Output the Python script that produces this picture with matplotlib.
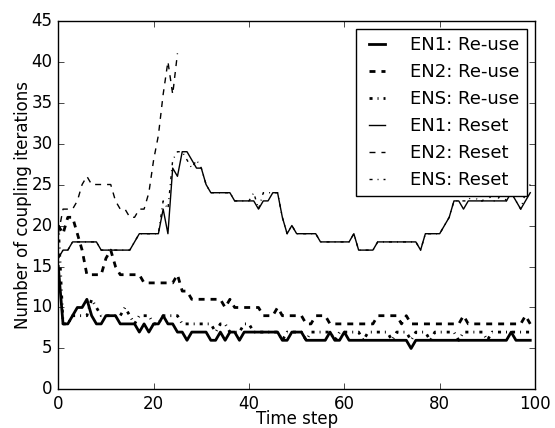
import numpy as np
import matplotlib
matplotlib.use("Agg")
import matplotlib.pyplot as plt

plt.style.use("classic")

# coupling iterations per time step
en1_reuse = [15, 8, 8, 9, 10, 10, 11, 9, 8, 8,
             9, 9, 9, 8, 8, 8, 8, 7, 8, 7,
             8, 8, 9, 8, 8, 7, 7, 6, 7, 7,
             7, 7, 6, 6, 7, 6, 7, 7, 6, 7,
             7, 7, 7, 7, 7, 7, 7, 6, 6, 7,
             7, 7, 6, 6, 6, 6, 6, 7, 6, 6,
             7, 6, 6, 6, 6, 6, 6, 6, 6, 6,
             6, 6, 6, 6, 5, 6, 6, 6, 6, 6,
             6, 6, 6, 6, 6, 6, 6, 6, 6, 6,
             6, 6, 6, 6, 6, 7, 6, 6, 6, 6]
en2_reuse = [20, 19, 21, 21, 19, 17, 14, 14, 14, 14,
             16, 17, 15, 14, 14, 14, 14, 14, 13, 13,
             13, 13, 13, 13, 13, 14, 12, 12, 11, 11,
             11, 11, 11, 11, 11, 10, 11, 10, 10, 10,
             10, 10, 10, 9, 9, 9, 10, 9, 9, 9,
             9, 9, 8, 8, 9, 9, 9, 8, 8, 8,
             8, 8, 8, 8, 8, 8, 8, 9, 9, 9,
             9, 9, 8, 9, 8, 8, 8, 8, 8, 8,
             8, 8, 8, 8, 8, 9, 8, 8, 8, 8,
             8, 8, 8, 8, 8, 8, 8, 8, 9, 8]
ens_reuse = [20, 8, 8, 9, 9, 9, 9, 11, 10, 9,
             9, 9, 9, 9, 10, 9, 8, 9, 9, 9,
             8, 8, 9, 9, 9, 9, 8, 8, 8, 8,
             8, 8, 8, 7, 8, 8, 7, 7, 7, 8,
             8, 7, 7, 7, 7, 7, 7, 6, 7, 7,
             7, 7, 6, 7, 7, 7, 7, 7, 6, 7,
             7, 7, 7, 7, 6, 7, 7, 7, 7, 7,
             6, 7, 7, 7, 6, 7, 7, 7, 6, 7,
             7, 7, 7, 7, 6, 7, 7, 7, 7, 7,
             6, 7, 7, 7, 7, 7, 7, 7, 7, 7]
en1_reset = [16, 17, 17, 18, 18, 18, 18, 18, 18, 17,
             17, 17, 17, 17, 17, 17, 18, 19, 19, 19,
             19, 19, 22, 19, 27, 26, 29, 29, 28, 27,
             27, 25, 24, 24, 24, 24, 24, 23, 23, 23,
             23, 23, 22, 23, 23, 24, 24, 21, 19, 20,
             19, 19, 19, 19, 19, 18, 18, 18, 18, 18,
             18, 18, 19, 17, 17, 17, 17, 18, 18, 18,
             18, 18, 18, 18, 18, 18, 17, 19, 19, 19,
             19, 20, 21, 23, 23, 22, 23, 23, 23, 23,
             23, 23, 23, 23, 23, 24, 23, 22, 23, 24]
en2_reset = [19, 22, 22, 22, 23, 25, 26, 25, 25, 25,
             25, 25, 23, 22, 22, 21, 21, 22, 22, 24,
             28, 31, 36, 40, 36, 41]
ens_reset = [16, 17, 17, 18, 18, 18, 18, 18, 18, 17,
             17, 17, 17, 17, 17, 17, 18, 19, 19, 19,
             19, 19, 23, 22, 28, 29, 29, 28, 27, 28,
             27, 25, 24, 24, 24, 24, 24, 23, 23, 23,
             23, 24, 22, 24, 24, 24, 24, 21, 19, 20,
             19, 19, 19, 19, 19, 18, 18, 18, 18, 18,
             18, 18, 19, 17, 17, 17, 17, 18, 18, 18,
             18, 18, 18, 18, 18, 18, 17, 19, 19, 19,
             19, 20, 21, 23, 23, 23, 23, 24, 23, 23,
             24, 23, 23, 24, 23, 24, 23, 22, 24, 25]

dashed = (0, (4.3, 4.3))
dashdot = (0, (2.2, 3.6, 0.7, 3.6))

series = [
    ("EN1: Re-use", en1_reuse, "-", 2),
    ("EN2: Re-use", en2_reuse, dashed, 2),
    ("ENS: Re-use", ens_reuse, dashdot, 2),
    ("EN1: Reset", en1_reset, "-", 1),
    ("EN2: Reset", en2_reset, dashed, 1),
    ("ENS: Reset", ens_reset, dashdot, 1),
]

fig = plt.figure(figsize=(5.55, 4.28), facecolor="white")
ax = fig.add_axes([0.105, 0.09, 0.859, 0.862])

for label, vals, ls, lw in series:
    ax.plot(np.arange(len(vals)), vals, color="black", linestyle=ls, linewidth=lw, label=label)

ax.set_xlim(0, 100)
ax.set_ylim(0, 45)
ax.set_xticks(range(0, 101, 20))
ax.set_yticks(range(0, 46, 5))
ax.set_xlabel("Time step", fontsize=12, labelpad=-2)
ax.set_ylabel("Number of coupling iterations", fontsize=12, labelpad=0)
ax.tick_params(labelsize=12)

ax.legend(loc="upper right", fontsize=13, handlelength=1.5, handletextpad=1.1,
          labelspacing=0.5, borderaxespad=0.45, numpoints=2)

fig.savefig("out.png", dpi=100, facecolor="white")
